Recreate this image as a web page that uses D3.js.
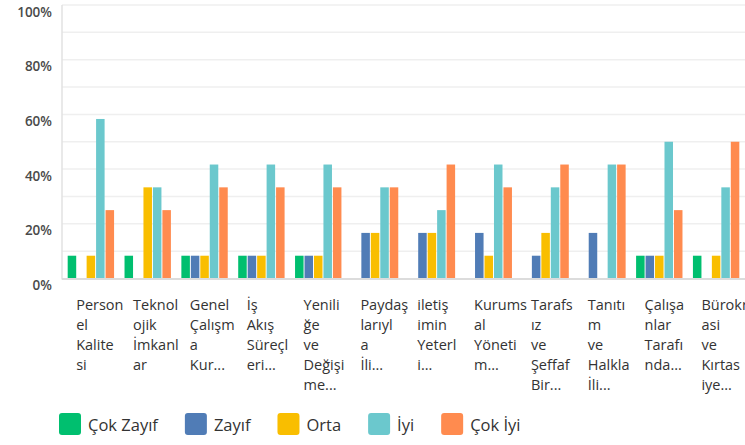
<!DOCTYPE html>
<html>
<head>
<meta charset="utf-8">
<script src="https://cdn.jsdelivr.net/npm/d3@7"></script>
<style>
  body { margin: 0; background: #fff; }
  svg { display: block; font-family: "Open Sans", sans-serif; }
</style>
</head>
<body>
<svg id="chart" width="745" height="445"></svg>
<script>
// categories, already broken into the lines shown under each group
var categories = ["Personel Kalitesi", "Teknolojik İmkanlar", "Genel Çalışma Kur", "İş Akış Süreçleri",
  "Yeniliğe ve Değişime", "Paydaşlarıyla İli", "iletişimin Yeterli", "Kurumsal Yönetim",
  "Tarafsız ve Şeffaf Bir", "Tanıtım ve Halkla İli", "Çalışanlar Tarafında", "Bürokrasi ve Kırtasiye"];
var labelLines = [
  ["Person", "el", "Kalite", "si"],
  ["Teknol", "ojik", "İmkanl", "ar"],
  ["Genel", "Çalışm", "a", "Kur..."],
  ["İş", "Akış", "Süreçl", "eri..."],
  ["Yenili", "ğe", "ve", "Değişi", "me..."],
  ["Paydaş", "larıyl", "a", "İli..."],
  ["iletiş", "imin", "Yeterl", "i..."],
  ["Kurums", "al", "Yöneti", "m..."],
  ["Tarafs", "ız", "ve", "Şeffaf", "Bir..."],
  ["Tanıtı", "m", "ve", "Halkla", "İli..."],
  ["Çalışa", "nlar", "Tarafı", "nda..."],
  ["Bürokr", "asi", "ve", "Kırtas", "iye..."]
];
var seriesNames = ["Çok Zayıf", "Zayıf", "Orta", "İyi", "Çok İyi"];
var seriesColors = ["#00BF6F", "#507CB6", "#F9BE00", "#6BC8CD", "#FF8B4F"];

// percentages per series, one value per category
var cokZayif = [8.33, 8.33, 8.33, 8.33, 8.33, 0, 0, 0, 0, 0, 8.33, 8.33];
var zayif    = [0, 0, 8.33, 8.33, 8.33, 16.67, 16.67, 16.67, 8.33, 16.67, 8.33, 0];
var orta     = [8.33, 33.33, 8.33, 8.33, 8.33, 16.67, 16.67, 8.33, 16.67, 0, 8.33, 8.33];
var iyi      = [58.33, 33.33, 41.67, 41.67, 41.67, 33.33, 25, 41.67, 33.33, 41.67, 50, 33.33];
var cokIyi   = [25, 25, 33.33, 33.33, 33.33, 33.33, 41.67, 33.33, 41.67, 41.67, 25, 50];

var yTicks = [0, 20, 40, 60, 80, 100];
var gridValues = [10, 20, 30, 40, 50, 60, 70, 80, 90, 100];

var series = [cokZayif, zayif, orta, iyi, cokIyi];

var svg = d3.select("#chart");
var plotLeft = 62, plotRight = 745, plotTop = 5, plotBottom = 278.5;

var x0 = d3.scaleBand().domain(categories).range([plotLeft, plotRight])
  .paddingInner(0.184).paddingOuter(0.1);
var x1 = d3.scaleBand().domain(d3.range(seriesNames.length)).range([0, x0.bandwidth()])
  .paddingInner(0.1);
var y = d3.scaleLinear().domain([0, 100]).range([plotBottom, plotTop]);

// gridlines
svg.append("g").selectAll("line")
  .data(gridValues)
  .enter().append("line")
  .attr("x1", plotLeft).attr("x2", plotRight)
  .attr("y1", function(d) { return y(d); })
  .attr("y2", function(d) { return y(d); })
  .attr("stroke", "#efefef")
  .attr("stroke-width", 1.5);

// left axis line and baseline
svg.append("line")
  .attr("x1", plotLeft).attr("x2", plotLeft).attr("y1", plotTop).attr("y2", plotBottom + 1)
  .attr("stroke", "#e2e2e2").attr("stroke-width", 1.5);

// y tick labels
svg.append("g").selectAll("text")
  .data(yTicks)
  .enter().append("text")
  .attr("x", 52)
  .attr("y", function(d) { return y(d) + 11.5; })
  .attr("text-anchor", "end")
  .attr("fill", "#4a4a4a")
  .attr("font-size", "13.5px")
  .attr("font-weight", 600)
  .text(function(d) { return d + "%"; });

// bars
var groups = svg.append("g").selectAll("g")
  .data(categories)
  .enter().append("g")
  .attr("transform", function(d) { return "translate(" + x0(d) + ",0)"; });

groups.selectAll("rect")
  .data(function(d, ci) {
    return series.map(function(s, si) { return { si: si, v: s[ci] }; })
      .filter(function(b) { return b.v > 0; });
  })
  .enter().append("rect")
  .attr("x", function(d) { return x1(d.si); })
  .attr("y", function(d) { return y(d.v); })
  .attr("width", x1.bandwidth())
  .attr("height", function(d) { return plotBottom - y(d.v); })
  .attr("fill", function(d) { return seriesColors[d.si]; });

svg.append("line")
  .attr("x1", plotLeft).attr("x2", plotRight).attr("y1", plotBottom + 0.5).attr("y2", plotBottom + 0.5)
  .attr("stroke", "#dcdcdc").attr("stroke-width", 2);

// category labels
var labels = svg.append("g").selectAll("text")
  .data(categories)
  .enter().append("text")
  .attr("x", function(d) { return x0(d) + 8.5; })
  .attr("y", 310)
  .attr("fill", "#333")
  .attr("font-size", "14.5px");

labels.selectAll("tspan")
  .data(function(d, i) { return labelLines[i]; })
  .enter().append("tspan")
  .attr("x", function() { return d3.select(this.parentNode).attr("x"); })
  .attr("dy", function(d, i) { return i === 0 ? 0 : 20; })
  .text(function(d) { return d; });

// legend
var legend = svg.append("g");
var lx = 59;
seriesNames.forEach(function(name, i) {
  legend.append("rect")
    .attr("x", lx).attr("y", 413)
    .attr("width", 22).attr("height", 22)
    .attr("rx", 3)
    .attr("fill", seriesColors[i]);
  var t = legend.append("text")
    .attr("x", lx + 29).attr("y", 431)
    .attr("fill", "#333")
    .attr("font-size", "16.5px")
    .text(name);
  lx += 29 + t.node().getComputedTextLength() + 27;
});
</script>
</body>
</html>
